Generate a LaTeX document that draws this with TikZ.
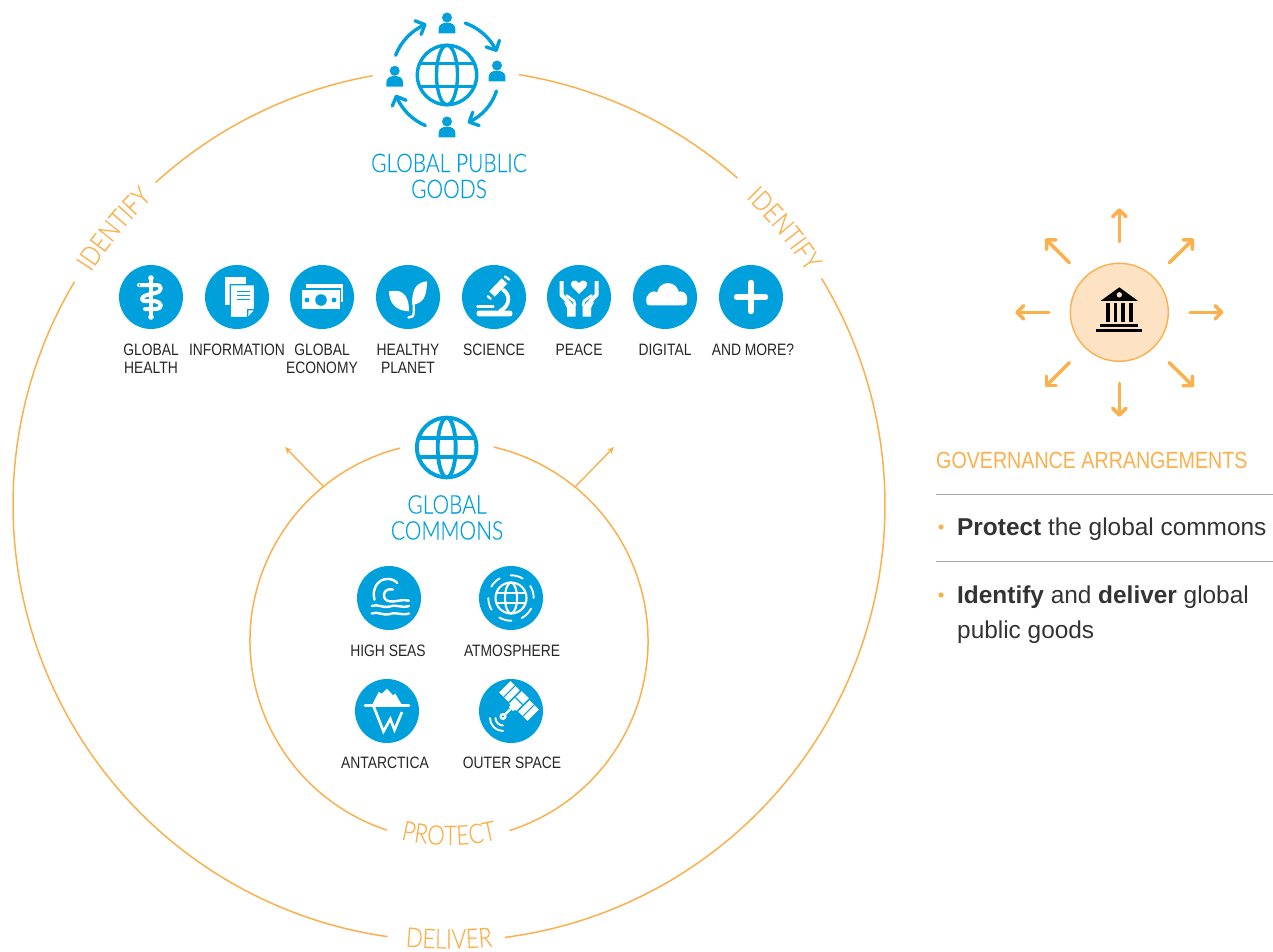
\documentclass[tikz,border=0pt]{standalone}
\usepackage{fontspec}
\usetikzlibrary{arrows.meta,decorations.text,calc}
\setmainfont{Liberation Sans}
\newfontfamily\condf[FakeStretch=0.84]{Liberation Sans}
\newfontfamily\lightf[FakeStretch=0.82,FakeBold=0.3]{Lato Light}
\newfontfamily\bodyf{Liberation Sans}
\definecolor{bl}{HTML}{00A0DC}
\definecolor{og}{HTML}{FBB04C}
\definecolor{ogfill}{HTML}{FDE3C4}
\definecolor{ink}{HTML}{333333}
\definecolor{rule}{HTML}{A6A6A6}
\tikzset{
  x=1pt,y=1pt,
  ring/.style={draw=og,line width=1.5pt},
  disc/.style={circle,fill=bl,minimum size=64pt,inner sep=0pt},
  wl/.style={draw=white,line width=2.6pt,line cap=round,line join=round},
  lab/.style={font=\condf\fontsize{16.5}{18}\selectfont,align=center,anchor=north,inner sep=0pt,text=black!85},
  title/.style={font=\lightf\fontsize{25.6}{26}\selectfont,align=center,anchor=north,inner sep=0pt,text=bl},
  body/.style={font=\bodyf\fontsize{24.4}{35}\selectfont,anchor=base west,inner sep=0pt,text=ink},
  sun/.style={draw=og,line width=3.5pt,line cap=round,line join=round},
  cyc/.style={draw=bl,line width=3.4pt,line cap=round,line join=round},
  thin/.style={draw=og,line width=1.4pt,-{Stealth[length=7pt,width=6pt]}},
  arctext/.style={decorate,decoration={text along path,text align=center,raise=0pt}},
}
\newcommand{\globeicon}[6]{% x, y, radius, ellipse rx, line dy, width
  \begin{scope}[shift={(#1,-#2)}]
    \draw[#6] (0,0) circle (#3);
    \draw[#6] (0,0) ellipse (#4 and #3);
    \draw[#6] (-#3+1.5,#5) -- (#3-1.5,#5) (-#3+1.5,-#5) -- (#3-1.5,-#5);
  \end{scope}}
\newcommand{\person}[2]{%
  \begin{scope}[shift={(#1,-#2)}]
    \fill[bl] (0,5.2) circle (5);
    \fill[bl] (-8.3,-10.6) -- (-8.3,-6) .. controls (-8.3,-1.5) and (-4,0) .. (0,0) .. controls (4,0) and (8.3,-1.5) .. (8.3,-6) -- (8.3,-10.6) -- cycle;
  \end{scope}}
\newcommand{\cyclearrow}[3]{% start angle, end angle, radius
  \draw[cyc] ([shift={(#1:#3)}]447,-75) arc (#1:#2:#3);
  \draw[cyc] ([shift={(#2:#3)}]447,-75) ++(#2+135:10.5) -- ++(#2-45:10.5) -- ++(#2+45:10.5);
}
\begin{document}
\begin{tikzpicture}
\useasboundingbox (0,0) rectangle (1273,-952);
% rings
\coordinate (oc) at (449,-505);
\coordinate (ic) at (449,-641);
\draw[ring] ([shift={(100.1:436)}]oc) arc (100.1:132.3:436);
\draw[ring] ([shift={(149.2:436)}]oc) arc (149.2:261.9:436);
\draw[ring] ([shift={(277.4:436)}]oc) arc (277.4:391.3:436);
\draw[ring] ([shift={(48.6:436)}]oc) arc (48.6:80.8:436);
\draw[ring] ([shift={(104.2:199)}]ic) arc (104.2:251.8:199);
\draw[ring] ([shift={(287.7:199)}]ic) arc (287.7:437:199);
\coordinate (a1s) at (324,-487); \coordinate (a1e) at (285,-447);
\coordinate (a2s) at (575,-487); \coordinate (a2e) at (614,-447);
\draw[thin] (a1s) -- (a1e);
\draw[thin] (a2s) -- (a2e);
% ring words
\path[arctext,decoration={text={|\lightf\fontsize{27}{27}\selectfont\color{og}|IDENTIFY}}] ([shift={(155:427)}]oc) arc (155:126:427);
\path[arctext,decoration={text={|\lightf\fontsize{27}{27}\selectfont\color{og}|IDENTIFY}}] ([shift={(54:427)}]oc) arc (54:25:427);
\path[arctext,decoration={text={|\lightf\fontsize{27}{27}\selectfont\color{og}|DELIVER}}] ([shift={(259:443.5)}]oc) arc (259:281:443.5);
\path[arctext,decoration={text={|\lightf\fontsize{27}{27}\selectfont\color{og}|PROTECT}}] ([shift={(245:204)}]ic) arc (245:295:204);
% top icon
\globeicon{447}{75}{29.7}{10.5}{11.7}{bl,line width=3.4pt}
\cyclearrow{70.6}{26.7}{55}
\cyclearrow{-17.9}{-64.7}{52}
\cyclearrow{246.8}{202.8}{55}
\cyclearrow{159}{113.7}{55}
\person{447}{22.7}\person{447}{126.7}\person{394.7}{76}\person{497}{70.7}
\node[title] (gpg) at (449,-153.5) {GLOBAL PUBLIC\\[0pt]GOODS};
% row discs
\node[disc] (d1) at (151,-297) {};
\node[disc] (d2) at (237,-297) {};
\node[disc] (d3) at (322,-297) {};
\node[disc] (d4) at (408,-297) {};
\node[disc] (d5) at (494,-297) {};
\node[disc] (d6) at (579,-297) {};
\node[disc] (d7) at (665,-297) {};
\node[disc] (d8) at (751,-297) {};
% caduceus
\begin{scope}[shift={(151,-297)}]
  \draw[wl,line width=3.4pt] (0,19) -- (0,-20);
  \fill[white] (0,19) circle (2.8) (0,-20) circle (2.8);
  \draw[wl,line width=4pt] (-12,12) -- (5,12) .. controls (12,12) and (11,5) .. (4,4) -- (-4,2) .. controls (-11,0) and (-11,-5) .. (-3,-4) -- (3,-4) .. controls (12,-5) and (12,-12) .. (4,-12) -- (-6,-12);
  \fill[bl] (-11.5,12) circle (0.9);
\end{scope}
% documents
\begin{scope}[shift={(237,-297)}]
  \fill[white] (-12,20) rectangle (9,-8.3);
  \fill[white,draw=bl,line width=1.3pt] (-6.7,12.3) -- (17.6,12.3) -- (17.6,-12.5) -- (10.5,-20.4) -- (-6.7,-20.4) -- cycle;
  \fill[bl] (17.6,-12) -- (10,-12) -- (10,-20.4) -- cycle;
  \fill[white] (16.5,-13.4) -- (11.3,-13.4) -- (11.3,-19.4) -- cycle;
  \draw[bl,line width=1.3pt] (-0.3,5.5) -- (13,5.5) (-0.3,1.5) -- (13,1.5) (-0.3,-2.5) -- (13,-2.5);
\end{scope}
% money
\begin{scope}[shift={(322,-297)}]
  \fill[white] (-16,13) rectangle (21,-5);
  \fill[white,draw=bl,line width=1.3pt] (-21,8) rectangle (18.5,-13);
  \fill[bl] (-1,-3) circle (5.8) (-15,-3) circle (2.4) (12,-3) circle (2.4);
\end{scope}
% plant
\begin{scope}[shift={(408,-297)}]
  \fill[white] (-19,5.7) .. controls (-9,7.5) and (1,6) .. (1,-14.3) .. controls (-12,-14) and (-19,-6) .. (-19,5.7) -- cycle;
  \fill[white] (19,15.7) .. controls (8,14.5) and (4,8) .. (4,-7.7) .. controls (14,-7) and (19,-1) .. (19,15.7) -- cycle;
  \draw[wl,line width=2.4pt] (5.7,-7.7) -- (5.7,-16) .. controls (5.7,-19.5) and (3,-20.5) .. (0.5,-20.5);
\end{scope}
% microscope
\begin{scope}[shift={(494,-297)}]
  \fill[white,rounded corners=2pt] (-17.3,-13.7) rectangle (18.3,-19.3);
  \draw[wl,line width=2.6pt] (-16.5,-9.3) -- (-0.7,-9.3);
  \draw[wl,line width=7.6pt,line cap=butt] (-2,3) -- (10.5,16);
  \draw[wl,line width=2.4pt] (11,20.5) -- (15.3,17.4);
  \draw[wl,line width=2.4pt] (-6.3,0.7) -- (-3.3,-1.7);
  \draw[wl,line width=3.8pt] (9,7.3) .. controls (17,2) and (16,-9) .. (6,-14);
\end{scope}
% peace
\begin{scope}[shift={(579,-297)}]
  \fill[white] (0,3) -- (-7,10) .. controls (-11,16) and (-3,19) .. (0,14) .. controls (3,19) and (11,16) .. (7,10) -- cycle;
  \draw[wl,line width=4pt,line cap=butt] (-17.5,16) -- (-17.5,2) -- (-8,-8);
  \draw[wl,line width=4pt,line cap=butt] (17.5,16) -- (17.5,2) -- (8,-8);
  \fill[white] (-15,-5) -- (-3.5,-8) -- (-3.5,-19.5) -- (-12,-19.5) -- (-12,-11) -- cycle;
  \fill[white] (15,-5) -- (3.5,-8) -- (3.5,-19.5) -- (12,-19.5) -- (12,-11) -- cycle;
  \draw[wl,line width=2.6pt] (-12.5,1.5) -- (-5,-4);
  \draw[wl,line width=2.6pt] (12.5,1.5) -- (5,-4);
  \draw[wl,line width=2.6pt] (-5,-4) -- (-4,-8) (5,-4) -- (4,-8);
\end{scope}
% cloud
\begin{scope}[shift={(665,-297)}]
  \fill[white] (3,3) circle (11) (-11,-1) circle (6.6) (15.5,-1) circle (6.6);
  \fill[white,rounded corners=3pt] (-18.7,-8.3) rectangle (22,2);
\end{scope}
% plus
\begin{scope}[shift={(751,-297)}]
  \draw[wl,line width=5.4pt] (-14.5,0) -- (14.5,0) (0,14.5) -- (0,-14.5);
\end{scope}
\node[lab] (l1) at (151,-343.5) {GLOBAL\\HEALTH};
\node[lab] (l2) at (237,-343.5) {INFORMATION};
\node[lab] (l3) at (322,-343.5) {GLOBAL\\ECONOMY};
\node[lab] (l4) at (408,-343.5) {HEALTHY\\PLANET};
\node[lab] (l5) at (494,-343.5) {SCIENCE};
\node[lab] (l6) at (579,-343.5) {PEACE};
\node[lab] (l7) at (665,-343.5) {DIGITAL};
\node[lab] (l8) at (753,-343.5) {AND MORE?};
% commons
\globeicon{446.7}{447.5}{29.8}{9}{9.2}{bl,line width=3.9pt}
\node[title] (gc) at (447,-495) {GLOBAL\\[0pt]COMMONS};
\node[disc] (c1) at (389,-598) {};
\node[disc] (c2) at (511,-598) {};
\node[disc] (c3) at (387,-711) {};
\node[disc] (c4) at (511,-711) {};
% high seas
\begin{scope}[shift={(389,-598)}]
  \draw[wl,line width=2.4pt] (-14.5,-1.7) .. controls (-17.5,9) and (-11,19) .. (-2,19) .. controls (2,19.5) and (6,17.5) .. (8.3,15);
  \draw[wl,line width=2.4pt] (4,8.5) .. controls (-7,11) and (-8,-3) .. (1,-3.3) .. controls (6,-4.5) and (10,-1) .. (20,-2.7);
  \draw[wl,line width=2.4pt] (-17.3,-8) .. controls (-11,-5.5) and (-7,-10.5) .. (1,-8.5) .. controls (8,-6) and (12,-10.5) .. (20,-8);
  \draw[wl,line width=2.4pt] (-17.3,-15.5) .. controls (-11,-13) and (-7,-18) .. (1,-16) .. controls (8,-13.5) and (12,-18) .. (20,-15.5);
\end{scope}
% atmosphere
\globeicon{511}{598}{15.5}{6}{5.4}{white,line width=2.1pt}
\begin{scope}[shift={(511,-598)}]
  \foreach \a/\b in {120/150,59/91,0/32,-62/-28,239/271,180/211}
    \draw[wl,line width=1.9pt] (\a:22.7) arc (\a:\b:22.7);
\end{scope}
% antarctica
\begin{scope}[shift={(387,-711)}]
  \draw[wl,line width=2.6pt] (-22,5.7) -- (22,5.7);
  \fill[white] (-15,6) -- (-8.3,19) -- (-5,17.3) -- (0,22.3) -- (6,15.7) -- (8.3,17.3) -- (15,6) -- cycle;
  \draw[white,line width=2.6pt,line join=miter] (-13.5,5) -- (-3.5,-20.5) -- (3.3,-8) -- (7.5,-19) -- (15,-1);
\end{scope}
% satellite
\begin{scope}[shift={(511,-711)}]
  \begin{scope}[shift={(8,10)},rotate=-45]
    \fill[white] (-5,-9) rectangle (5,9);
    \fill[white] (-20,-8) rectangle (-7,8);
    \fill[white] (7,-8) rectangle (20,8);
    \draw[bl,line width=1.1pt] (-13.5,-8) -- (-13.5,8) (13.5,-8) -- (13.5,8);
    \draw[bl,line width=1.1pt] (-5,0) -- (5,0);
  \end{scope}
  \draw[white,line width=6pt] (7,9) -- (0,2);
  \fill[white] (-8,-5.5) circle (3.6);
  \draw[wl,line width=2.4pt] (-6,-3.5) -- (-1,1.5);
  \fill[bl] (-8,-5.5) circle (1.2);
  \draw[wl,line width=1.9pt] (-15.5,-7) arc (180:270:7.5);
  \draw[wl,line width=1.9pt] (-21,-7) arc (180:270:13);
\end{scope}
\node[lab] (c1l) at (388,-645) {HIGH SEAS};
\node[lab] (c2l) at (512,-645) {ATMOSPHERE};
\node[lab] (c3l) at (385,-757) {ANTARCTICA};
\node[lab] (c4l) at (512,-757) {OUTER SPACE};
% governance
\node[circle,draw=og,fill=ogfill,line width=1.4pt,minimum size=98pt,inner sep=0pt] (gov) at (1119.3,-312.3) {};
\begin{scope}[shift={(1119.3,-312.3)}]
  \fill[black] (-18.5,11.5) -- (0,25) -- (18.5,11.5) -- cycle;
  \fill[ogfill] (0,17.5) circle (2.7);
  \foreach \cx in {-11.5,-3.8,3.8,11.5} \fill[black] (\cx-1.9,9) rectangle (\cx+1.9,-10);
  \fill[black] (-19,-12) rectangle (19,-15);
  \fill[black] (-23,-17) rectangle (23,-19.7);
\end{scope}
\foreach \n/\sx/\sy/\ex/\ey in {u/1119.3/241.7/1119.3/210, r/1190/312.3/1221.7/312.3, l/1049/312.3/1017/312.3, d/1119.3/383.3/1119.3/415, ur/1169.3/262.7/1192.5/240, ul/1069.3/262.7/1046.5/240, lr/1169.3/362.7/1192.5/385.5, ll/1069.3/362.7/1046.5/385.5}{
  \coordinate (s\n) at (\sx,-\sy); \coordinate (e\n) at (\ex,-\ey);
  \draw[sun] (s\n) -- (e\n);
  \draw[sun] ($(e\n)!9.5pt!45:(s\n)$) -- (e\n) -- ($(e\n)!9.5pt!-45:(s\n)$);
}
\node[font=\condf\fontsize{23.4}{24}\selectfont,text=og,anchor=base west,inner sep=0pt] (govt) at (936,-468) {GOVERNANCE ARRANGEMENTS};
\coordinate (r1a) at (936,-494); \coordinate (r1b) at (1273,-494);
\coordinate (r2a) at (936,-561); \coordinate (r2b) at (1273,-561);
\draw[rule,line width=1pt] (r1a) -- (r1b);
\draw[rule,line width=1pt] (r2a) -- (r2b);
\fill[og] (941,-527) circle (2.6) (941,-595) circle (2.6);
\node[body] (b1) at (957,-535) {\textbf{Protect} the global commons};
\node[body] (b2) at (957,-603) {\textbf{Identify} and \textbf{deliver} global};
\node[body] (b3) at (957,-638) {public goods};
\end{tikzpicture}
\end{document}
